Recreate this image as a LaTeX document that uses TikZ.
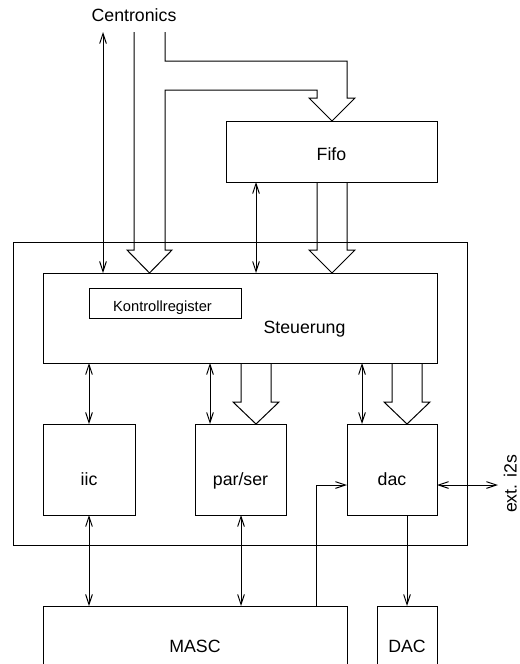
\documentclass[tikz,border=0pt]{standalone}
\usepackage{fontspec}
\setmainfont{Liberation Sans}
\usetikzlibrary{arrows.meta,calc}
\begin{document}
\begin{tikzpicture}[x=0.75pt,y=-0.75pt,
  box/.style={draw,line width=0.75pt,inner sep=0pt,outer sep=0pt},
  lbl/.style={font=\fontsize{13.3}{16}\selectfont,anchor=base,inner sep=0pt},
  small/.style={font=\fontsize{11}{13}\selectfont,anchor=base,inner sep=0pt},
  conn/.style={line width=0.75pt},
  tip/.tip={Straight Barb[length=7.5pt,width=5pt]},
  bi/.style={conn,tip-tip},
  uni/.style={conn,-tip},
  fat/.style={conn,line join=miter}]
\useasboundingbox (0,0) rectangle (520,664);
\clip (0,0) rectangle (520,664);

% boxes
\node[box,minimum width=340.5pt,minimum height=227.25pt] (outer) at (240,393.5) {};
\node[box,minimum width=295.5pt,minimum height=67.5pt] (steu) at (240,318) {};
\node[box,minimum width=114pt,minimum height=22.5pt] (kreg) at (165,303) {};
\node[box,minimum width=158.25pt,minimum height=45.75pt] (fifo) at (331.5,151.5) {};
\node[box,minimum width=69pt,minimum height=68.25pt] (iic) at (89,469.5) {};
\node[box,minimum width=68.25pt,minimum height=68.25pt] (par) at (240.5,469.5) {};
\node[box,minimum width=67.5pt,minimum height=68.25pt] (dac) at (392,469.5) {};
\node[box,minimum width=228pt,minimum height=75pt] (masc) at (195,656) {};
\node[box,minimum width=45pt,minimum height=75pt] (DAC) at (407,656) {};

% texts
\node[lbl] (tcent) at (134,21) {Centronics};
\node[lbl] (tfifo) at (331.5,160) {Fifo};
\node[small] (tkreg) at (162.5,311) {Kontrollregister};
\node[lbl] (tsteu) at (304.5,333) {Steuerung};
\node[lbl] (tiic) at (89,485) {iic};
\node[lbl] (tpar) at (240.5,485) {par/ser};
\node[lbl] (tdac) at (392,485) {dac};
\node[lbl] (tmasc) at (195,652) {MASC};
\node[lbl] (tDAC) at (407,652) {DAC};
\node[lbl,rotate=90] (text) at (516.5,484) {ext. i2s};

% connector end points
\coordinate (c1) at (103,32);
\coordinate (c2) at (134,32);
\coordinate (c3) at (165,32);
\coordinate (ext) at (498,485);
\coordinate (pa) at ($(par.north west)+(15,0)$);
\coordinate (da) at ($(dac.north west)+(15,0)$);
\coordinate (ps) at ($(par.south)+(0.5,0)$);
\coordinate (fa) at ($(fifo.south west)+(30,0)$);

% Centronics bidirectional
\draw[bi] (c1) -- (c1 |- steu.north);

% Centronics fat arrows to Steuerung and Fifo
\draw[fat] (c2) -- (134,250) -- (127,250) -- (149.5,273) -- (172,250) -- (165,250)
  -- (165,90) -- (317,90) -- (317,98) -- (309,98) -- (332,121) -- (355,98) -- (347,98)
  -- (347,61) -- (165,61) -- (c3);

% Fifo <-> Steuerung
\draw[bi] (fa) -- (fa |- steu.north);
\draw[fat] (317,182) -- (317,250) -- (309,250) -- (332,273) -- (355,250) -- (347,250) -- (347,182);

% Steuerung to row
\draw[bi] (iic.north |- steu.south) -- (iic.north);
\draw[bi] (pa |- steu.south) -- (pa);
\draw[bi] (da |- steu.south) -- (da);
\draw[fat] (241,363) -- (241,402) -- (233,402) -- (256,424) -- (279,402) -- (271,402) -- (271,363);
\draw[fat] (392,363) -- (392,402) -- (384,402) -- (407,424) -- (430,402) -- (422,402) -- (422,363);

% row to bottom
\draw[bi] (iic.south) -- (iic.south |- masc.north);
\draw[bi] (ps) -- (ps |- masc.north);
\draw[uni] (dac.south -| DAC.north) -- (DAC.north);
\draw[uni] (316,606) -- (316,485) -- (dac.west |- 0,485);
\draw[bi] (dac.east |- 0,485) -- (ext);
\end{tikzpicture}
\end{document}
